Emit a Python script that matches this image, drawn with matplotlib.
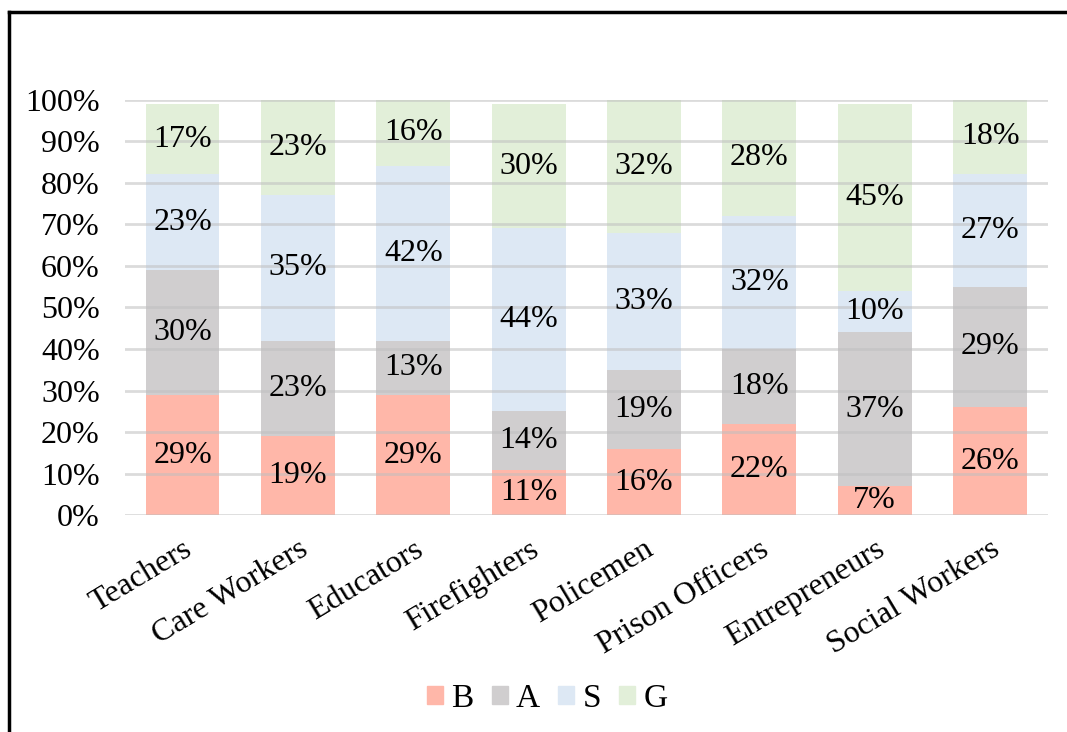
import matplotlib.pyplot as plt
from matplotlib.lines import Line2D
from matplotlib.patches import Patch
import numpy as np

plt.rcParams['font.family'] = ['Liberation Serif', 'DejaVu Serif']

jobs = ['Teachers', 'Care Workers', 'Educators', 'Firefighters', 'Policemen',
        'Prison Officers', 'Entrepreneurs', 'Social Workers']
B = [29, 19, 29, 11, 16, 22, 7, 26]
A = [30, 23, 13, 14, 19, 18, 37, 29]
S = [23, 35, 42, 44, 33, 32, 10, 27]
G = [17, 23, 16, 30, 32, 28, 45, 18]

series = [('B', B, '#FFB7A9'), ('A', A, '#D0CECF'),
          ('S', S, '#DDE8F4'), ('G', G, '#E2EFD9')]

fs = 23

fig = plt.figure(figsize=(10.67, 7.32), dpi=100)
ax = fig.add_axes([0.117, 0.296, 0.865, 0.568])

x = np.arange(len(jobs))
bottom = np.zeros(len(jobs))
for name, vals, col in series:
    vals = np.array(vals, dtype=float)
    ax.bar(x, vals, 0.64, bottom=bottom, color=col, label=name, zorder=2)
    for xi, b, v in zip(x, bottom, vals):
        ax.text(xi, b + v / 2, f'{int(v)}%', ha='center', va='center',
                fontsize=fs, zorder=4)
    bottom += vals

# grid lines sit on top of the pale bars
for yv in range(0, 101, 10):
    ax.axhline(yv, color='#BFBFBF', lw=2, alpha=0.55, zorder=3)

ax.set_xlim(-0.5, len(jobs) - 0.5)
ax.set_ylim(0, 100)
ax.set_yticks(range(0, 101, 10))
ax.set_yticklabels([f'{v}%' for v in range(0, 101, 10)], fontsize=fs)
ax.set_xticks(x)
ax.set_xticklabels(jobs, fontsize=fs, rotation=31, ha='right',
                   rotation_mode='anchor')
ax.tick_params(axis='y', length=0, pad=18)
ax.tick_params(axis='x', length=0, pad=14)
for sp in ax.spines.values():
    sp.set_visible(False)

handles = [Patch(color=c, label=n) for n, _, c in series]
fig.legend(handles=handles, loc='center', bbox_to_anchor=(0.513, 0.046), ncol=4,
           frameon=False, fontsize=24, handlelength=0.47, handleheight=0.47,
           handletextpad=0.25, columnspacing=0.55)

# outer frame, left and top edges
fig.add_artist(Line2D([0.0085, 0.0085], [0, 0.984], color='black', lw=2.5,
                      transform=fig.transFigure))
fig.add_artist(Line2D([0.0085, 1.0], [0.984, 0.984], color='black', lw=2.5,
                      transform=fig.transFigure))

fig.savefig('out.png', dpi=100)
